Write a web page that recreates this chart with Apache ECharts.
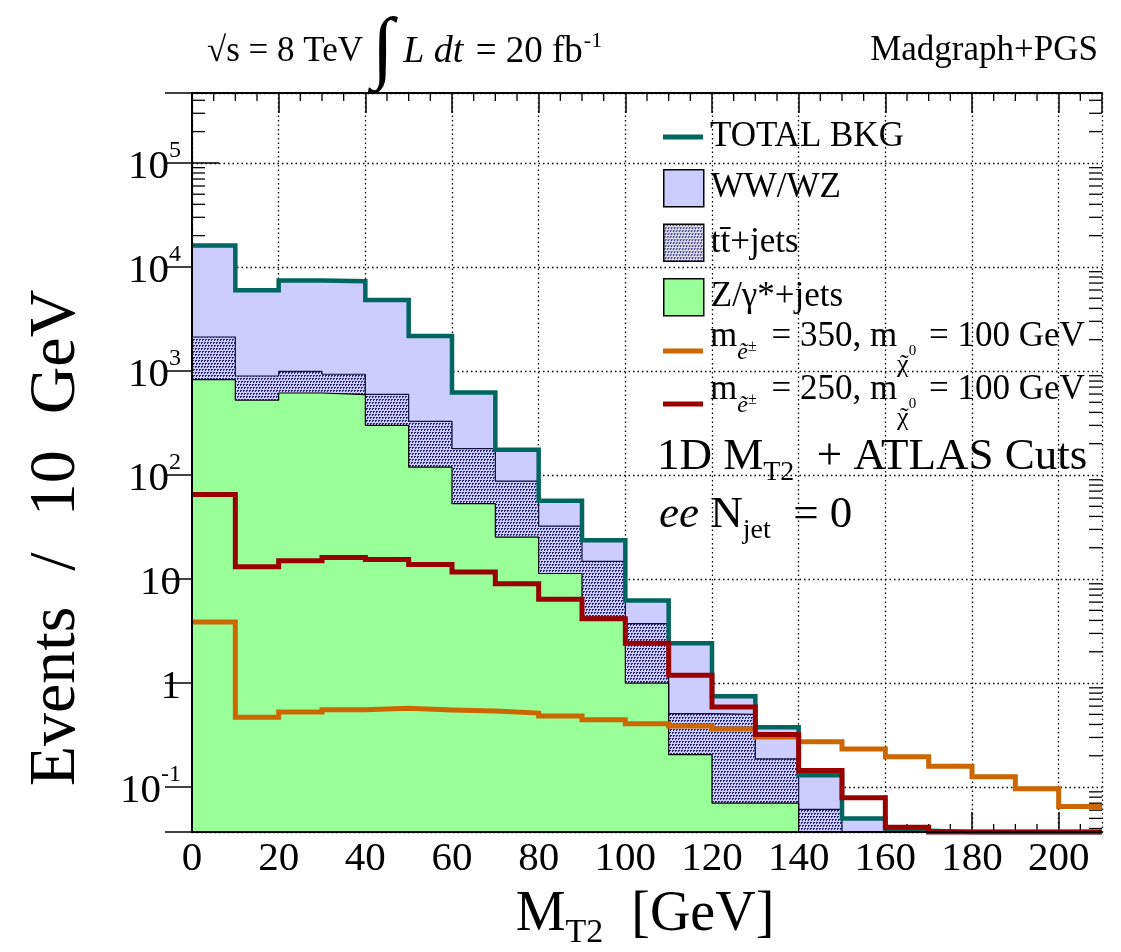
<!DOCTYPE html>
<html><head><meta charset="utf-8">
<script src="https://cdn.jsdelivr.net/npm/echarts@6/dist/echarts.min.js"></script>
<style>html,body{margin:0;padding:0;background:#fff}#c{width:1121px;height:952px}</style>
</head><body><div id="c"></div>
<script>
// ---------------- data ----------------
const binEdges = [0,10,20,30,40,50,60,70,80,90,100,110,120,130,140,150,160,170,180,190,200,210];
// stacked background components (events / 10 GeV); 0.001 = empty bin (below axis floor)
const zJets  = [827, 523, 614, 593, 300, 119, 53, 25.3, 11.3, 4.3, 1.0, 0.205, 0.070, 0.070, 0.001, 0.001, 0.001, 0.001, 0.001, 0.001, 0.001];
const ttJets = [1293, 372, 376, 337, 297, 209, 126, 62.2, 21.0, 10.5, 2.72, 0.303, 0.43, 0.117, 0.060, 0, 0, 0, 0, 0, 0];
const wwwz   = [13950, 5075, 6410, 6370, 4223, 1842, 441, 87.5, 24.4, 8.8, 2.48, 1.90, 0.245, 0.188, 0.070, 0.050, 0.037, 0, 0, 0, 0];
const totalBkg = [16070, 5970, 7400, 7300, 4820, 2170, 620, 175, 56.7, 23.6, 6.2, 2.41, 0.745, 0.375, 0.13, 0.050, 0.038, 0.037, 0.037, 0.037, 0.037];
const sig350 = [3.86, 0.47, 0.526, 0.555, 0.571, 0.551, 0.538, 0.515, 0.482, 0.445, 0.407, 0.386, 0.361, 0.303, 0.273, 0.232, 0.196, 0.159, 0.126, 0.0966, 0.065];
const sig250 = [65, 13.1, 15.0, 16.1, 15.4, 13.8, 11.7, 9.0, 6.4, 4.16, 2.41, 1.19, 0.588, 0.321, 0.144, 0.079, 0.041, 0.037, 0.037, 0.037, 0.037];

const seriesNames = ['TOTAL BKG', 'WW/WZ', 'tt\u0304+jets', 'Z/\u03b3*+jets', 'm350', 'm250'];
const xTickValues = [0,20,40,60,80,100,120,140,160,180,200];
const yTickValues = [0.1, 1, 10, 100, 1000, 10000, 100000];
const yTickLabels = ['{b|10}{s|-1}', '{b|1}', '{b|10}', '{b|10}{s|2}', '{b|10}{s|3}', '{b|10}{s|4}', '{b|10}{s|5}'];
const sigLegendLabels = {
  m350: '{m|m}{es|\u1ebd}{pm|\u00b1}{m| = 350, m}{chi|\u03c7}{tl|\u02dc}{z|0}{m| = 100 GeV}',
  m250: '{m|m}{es|\u1ebd}{pm|\u00b1}{m| = 250, m}{chi|\u03c7}{tl|\u02dc}{z|0}{m| = 100 GeV}'
};

// ---------------- helpers ----------------
const xMin = 0, xMax = 210, xStep = 20;
const yMin = 0.037, yMax = 4.7e5;
const FONT = 'Liberation Serif';
function hist(vals) {
  const d = vals.map((v, i) => [binEdges[i], v]);
  d.push([binEdges[vals.length], vals[vals.length - 1]]);
  return d;
}
// stacked layer tops (THStack drawing: each layer drawn from the floor, upper layers first)
const ttTop = zJets.map((v, i) => v + ttJets[i]);
const allTop = ttTop.map((v, i) => v + wwwz[i]);

function dotPattern(bg) {
  const c = document.createElement('canvas');
  c.width = 6; c.height = 6;
  const g = c.getContext('2d');
  g.fillStyle = bg; g.fillRect(0, 0, 6, 6);
  g.fillStyle = '#262670';
  [[0, 0], [3, 0], [1, 3], [4, 3]].forEach(([x, y]) => { g.fillRect(x, y, 2, 1); g.fillRect(x, y + 1, 1, 1); });
  return { image: c, repeat: 'repeat' };
}
const yMinorTicks = [];
for (let e = -2; e <= 5; e++) for (let m = 2; m <= 9; m++) {
  const v = m * Math.pow(10, e);
  if (v > yMin && v < yMax) yMinorTicks.push(v);
}
const xMinorTicks = [];
for (let v = 5; v < xMax; v += 5) if (v % xStep !== 0) xMinorTicks.push(v);

const C_TEAL = '#00665f', C_LAV = '#ccccff', C_GREEN = '#99ff99', C_ORANGE = '#cc6600', C_RED = '#990000';
const dotsPlot = dotPattern(C_LAV);
const dotsLegend = dotPattern('#ececf8');

const chart = echarts.init(document.getElementById('c'), null, { renderer: 'canvas' });

const yLabelFormatter = v => {
  const i = yTickValues.findIndex(t => Math.abs(Math.log10(t) - Math.log10(v)) < 1e-6);
  return i >= 0 ? yTickLabels[i] : '';
};
const sigRich = {
  m: { fontFamily: FONT, fontSize: 35, lineHeight: 60, verticalAlign: 'middle', color: '#000' },
  es: { fontFamily: FONT, fontSize: 24, fontStyle: 'italic', lineHeight: 10, verticalAlign: 'top', padding: [34, 0, 0, 0], color: '#000' },
  pm: { fontFamily: FONT, fontSize: 16, lineHeight: 10, verticalAlign: 'top', padding: [32, 6, 0, 0], color: '#000' },
  chi: { fontFamily: FONT, fontSize: 26, lineHeight: 10, verticalAlign: 'top', padding: [45, 0, 0, 0], width: 3, color: '#000' },
  tl: { fontFamily: FONT, fontSize: 26, lineHeight: 10, verticalAlign: 'top', padding: [45, 0, 0, 0], color: '#000' },
  z: { fontFamily: FONT, fontSize: 15, lineHeight: 10, verticalAlign: 'top', padding: [37, 4, 0, 0], color: '#000' }
};

const option = {
  animation: false,
  backgroundColor: '#fff',
  textStyle: { fontFamily: FONT, color: '#000' },
  grid: { left: 192, right: 19, top: 93, bottom: 120 },
  xAxis: [
    { type: 'value', min: xMin, max: xMax, interval: xStep, position: 'bottom',
      axisLine: { show: true, lineStyle: { color: '#000', width: 2 } },
      axisTick: { show: true, inside: true, length: 20, lineStyle: { color: '#000', width: 1.5 } },
      axisLabel: { fontFamily: FONT, fontSize: 41, color: '#000', margin: 7, showMaxLabel: false,
        formatter: v => (xTickValues.indexOf(v) >= 0 ? String(v) : '') },
      splitLine: { show: true, lineStyle: { color: '#000', width: 1.3, type: [1.5, 3] } } },
    { type: 'value', min: xMin, max: xMax, interval: xStep, position: 'top',
      axisLine: { show: true, lineStyle: { color: '#000', width: 2 } },
      axisTick: { show: true, inside: true, length: 20, lineStyle: { color: '#000', width: 1.5 } },
      axisLabel: { show: false }, splitLine: { show: false } },
    { type: 'value', min: xMin, max: xMax, interval: xStep, position: 'bottom', z: 10,
      axisLine: { show: true, lineStyle: { color: '#000', width: 2 } },
      axisTick: { show: false }, axisLabel: { show: false }, splitLine: { show: false } }
  ],
  yAxis: [
    { type: 'log', min: yMin, max: yMax, position: 'left',
      axisLine: { show: true, lineStyle: { color: '#000', width: 2 } },
      axisTick: { show: true, inside: true, length: 27, lineStyle: { color: '#000', width: 1.5 } },
      axisLabel: { fontFamily: FONT, fontSize: 41, color: '#000', margin: 11, showMinLabel: false, showMaxLabel: false,
        formatter: yLabelFormatter,
        rich: { b: { fontFamily: FONT, fontSize: 41, lineHeight: 49, verticalAlign: 'bottom', color: '#000' },
                s: { fontFamily: FONT, fontSize: 24, lineHeight: 10, verticalAlign: 'top', color: '#000' } } },
      splitLine: { show: true, lineStyle: { color: '#000', width: 1.3, type: [1.5, 3] } } },
    { type: 'log', min: yMin, max: yMax, position: 'right',
      axisLine: { show: true, lineStyle: { color: '#000', width: 2 } },
      axisTick: { show: true, inside: true, length: 27, lineStyle: { color: '#000', width: 1.5 } },
      axisLabel: { show: false }, splitLine: { show: false } },
    { type: 'log', min: yMin, max: yMax, position: 'left', z: 10,
      axisLine: { show: true, lineStyle: { color: '#000', width: 2 } },
      axisTick: { show: false }, axisLabel: { show: false }, splitLine: { show: false } }
  ],
  legend: [
    { data: [{ name: seriesNames[0], icon: 'rect', itemStyle: { color: C_TEAL, borderWidth: 0 } }],
      left: 663, top: 117, padding: 0, itemWidth: 40, itemHeight: 5, selectedMode: false,
      textStyle: { fontFamily: FONT, fontSize: 35, lineHeight: 40, color: '#000', padding: [0, 0, 0, 2] } },
    { data: [
        { name: seriesNames[1], icon: 'rect', itemStyle: { color: C_LAV, borderColor: '#000', borderWidth: 1.5 } },
        { name: seriesNames[2], icon: 'rect', itemStyle: { color: dotsLegend, borderColor: '#000', borderWidth: 1.5 } },
        { name: seriesNames[3], icon: 'rect', itemStyle: { color: C_GREEN, borderColor: '#000', borderWidth: 1.5 } } ],
      orient: 'vertical', left: 663, top: 169, padding: 0, itemWidth: 40, itemHeight: 37, itemGap: 16, selectedMode: false,
      textStyle: { fontFamily: FONT, fontSize: 35, lineHeight: 37, color: '#000', padding: [0, 0, 0, 2] } },
    { data: [{ name: seriesNames[4], icon: 'rect', itemStyle: { color: C_ORANGE, borderWidth: 0 } }],
      left: 663, top: 307, padding: 0, itemWidth: 40, itemHeight: 5, selectedMode: false,
      formatter: n => sigLegendLabels[n],
      textStyle: { fontFamily: FONT, fontSize: 35, lineHeight: 60, color: '#000', padding: [0, 0, 28, 2], rich: sigRich } },
    { data: [{ name: seriesNames[5], icon: 'rect', itemStyle: { color: C_RED, borderWidth: 0 } }],
      left: 663, top: 360, padding: 0, itemWidth: 40, itemHeight: 5, selectedMode: false,
      formatter: n => sigLegendLabels[n],
      textStyle: { fontFamily: FONT, fontSize: 35, lineHeight: 60, color: '#000', padding: [0, 0, 28, 2], rich: sigRich } }
  ],
  series: [
    { type: 'custom', name: 'yminor', coordinateSystem: 'cartesian2d', xAxisIndex: 0, yAxisIndex: 0, silent: true, z: 1, clip: false,
      data: yMinorTicks.map(v => [xMin, v]), encode: { x: 0, y: 1 },
      renderItem: (p, api) => {
        const a = api.coord([xMin, api.value(1)]), b = api.coord([xMax, api.value(1)]);
        return { type: 'group', children: [
          { type: 'line', shape: { x1: a[0], y1: a[1], x2: a[0] + 13, y2: a[1] }, style: { stroke: '#000', lineWidth: 1.3 } },
          { type: 'line', shape: { x1: b[0] - 13, y1: b[1], x2: b[0], y2: b[1] }, style: { stroke: '#000', lineWidth: 1.3 } } ] };
      } },
    { type: 'custom', name: 'xminor', coordinateSystem: 'cartesian2d', xAxisIndex: 0, yAxisIndex: 0, silent: true, z: 1, clip: false,
      data: xMinorTicks.map(v => [v, yMin]), encode: { x: 0, y: 1 },
      renderItem: (p, api) => {
        const a = api.coord([api.value(0), yMin]), b = api.coord([api.value(0), yMax]);
        return { type: 'group', children: [
          { type: 'line', shape: { x1: a[0], y1: a[1], x2: a[0], y2: a[1] - 8 }, style: { stroke: '#000', lineWidth: 1.3 } },
          { type: 'line', shape: { x1: b[0], y1: b[1], x2: b[0], y2: b[1] + 8 }, style: { stroke: '#000', lineWidth: 1.3 } } ] };
      } },
    { type: 'line', name: seriesNames[1], step: 'end', data: hist(allTop), showSymbol: false, symbol: 'none', clip: true,
      lineStyle: { color: '#000', width: 1 }, itemStyle: { color: C_LAV }, areaStyle: { color: C_LAV, opacity: 1 } },
    { type: 'line', name: seriesNames[2], step: 'end', data: hist(ttTop), showSymbol: false, symbol: 'none', clip: true,
      lineStyle: { color: '#10103a', width: 1.2 }, itemStyle: { color: C_LAV }, areaStyle: { color: dotsPlot, opacity: 1 } },
    { type: 'line', name: seriesNames[3], step: 'end', data: hist(zJets), showSymbol: false, symbol: 'none', clip: true,
      lineStyle: { color: '#000', width: 1.2 }, itemStyle: { color: C_GREEN }, areaStyle: { color: C_GREEN, opacity: 1 } },
    { type: 'line', name: seriesNames[0], step: 'end', data: hist(totalBkg), showSymbol: false, symbol: 'none', clip: false,
      lineStyle: { color: C_TEAL, width: 4.5, cap: 'butt', join: 'miter' }, itemStyle: { color: C_TEAL } },
    { type: 'line', name: seriesNames[4], step: 'end', data: hist(sig350), showSymbol: false, symbol: 'none', clip: false,
      lineStyle: { color: C_ORANGE, width: 5, cap: 'butt', join: 'miter' }, itemStyle: { color: C_ORANGE } },
    { type: 'line', name: seriesNames[5], step: 'end', data: hist(sig250), showSymbol: false, symbol: 'none', clip: false,
      lineStyle: { color: C_RED, width: 5, cap: 'butt', join: 'miter' }, itemStyle: { color: C_RED } }
  ],
  graphic: [
    { type: 'text', x: 207, y: 52, z: 100, silent: true,
      style: { text: '{r|\u221as = 8 TeV }{int|\u222b}{it| L dt}{r2| = 20 fb}{sup|-1}', verticalAlign: 'middle', align: 'left',
        rich: { r: { fontFamily: FONT, fontSize: 35, lineHeight: 90, fill: '#000' },
                int: { fontFamily: FONT, fontSize: 80, lineHeight: 90, fill: '#000' },
                it: { fontFamily: FONT, fontSize: 38, fontStyle: 'italic', lineHeight: 90, padding: [0, 3, 0, 0], fill: '#000' },
                r2: { fontFamily: FONT, fontSize: 37, lineHeight: 90, fill: '#000' },
                sup: { fontFamily: FONT, fontSize: 22, lineHeight: 10, verticalAlign: 'top', padding: [23, 0, 0, 1], fill: '#000' } } } },
    { type: 'text', x: 1098, y: 51, z: 100, silent: true,
      style: { text: 'Madgraph+PGS', font: '35px "Liberation Serif"', fill: '#000', align: 'right', verticalAlign: 'middle' } },
    { type: 'text', x: 657, y: 457, z: 100, silent: true,
      style: { text: '{a|1D M}{s|T2}{a|  + ATLAS Cuts}', align: 'left', verticalAlign: 'middle',
        rich: { a: { fontFamily: FONT, fontSize: 45, lineHeight: 60, fill: '#000' },
                s: { fontFamily: FONT, fontSize: 28, lineHeight: 30, verticalAlign: 'bottom', fill: '#000' } } } },
    { type: 'text', x: 659, y: 515, z: 100, silent: true,
      style: { text: '{i|ee}{a| N}{s|jet}{a|  = 0}', align: 'left', verticalAlign: 'middle',
        rich: { a: { fontFamily: FONT, fontSize: 45, lineHeight: 60, fill: '#000' },
                i: { fontFamily: FONT, fontSize: 45, fontStyle: 'italic', lineHeight: 60, fill: '#000' },
                s: { fontFamily: FONT, fontSize: 28, lineHeight: 28, verticalAlign: 'bottom', fill: '#000' } } } },
    { type: 'text', x: 645, y: 915, z: 100, silent: true,
      style: { text: '{m|M}{s|T2}{m|  [GeV]}', align: 'center', verticalAlign: 'middle',
        rich: { m: { fontFamily: FONT, fontSize: 56, lineHeight: 70, fill: '#000' },
                s: { fontFamily: FONT, fontSize: 34, lineHeight: 36, verticalAlign: 'bottom', fill: '#000' } } } },
    { type: 'text', x: 57, y: 538, rotation: Math.PI / 2, z: 100, silent: true,
      style: { text: '{a|Events}{sp| }{a|/}{sp| }{a|10}{sp| }{a|GeV}', align: 'center', verticalAlign: 'middle',
        rich: { a: { fontFamily: FONT, fontSize: 66, lineHeight: 76, fill: '#000' },
                sp: { fontFamily: FONT, fontSize: 66, lineHeight: 76, width: 36, fill: '#000' } } } }
  ]
};
chart.setOption(option);
</script>
</body></html>
